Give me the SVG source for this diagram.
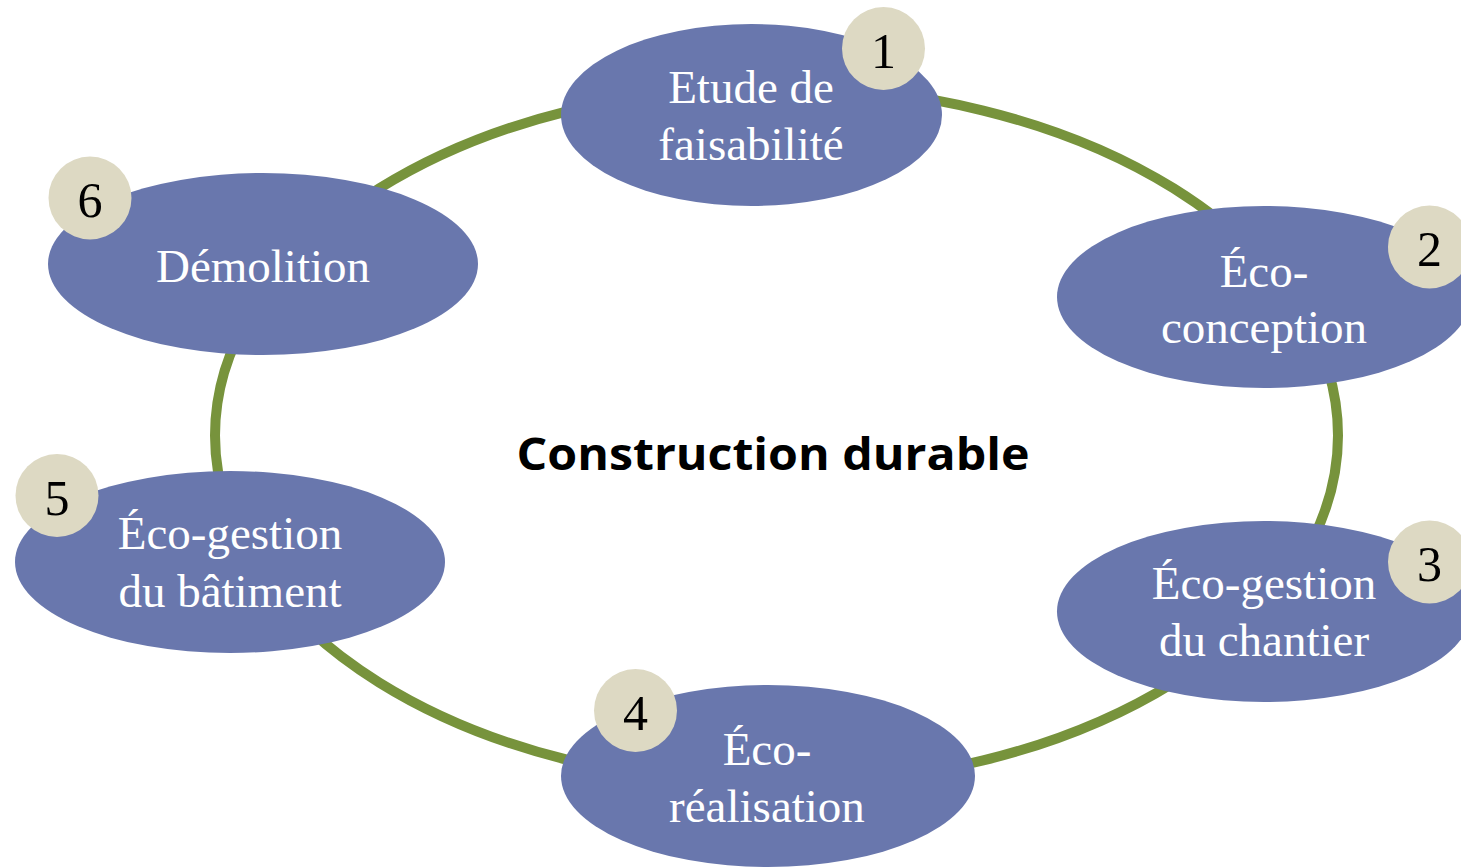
<svg xmlns="http://www.w3.org/2000/svg" width="1461" height="867" viewBox="0 0 1461 867">
<style>
.node{fill:#6977AD}
.badge{fill:#DDD9C3}
.lbl{font-family:"Liberation Serif","Times New Roman",serif;font-size:47px;fill:#FFFFFF;text-anchor:middle}
.num{font-family:"Liberation Serif","Times New Roman",serif;font-size:50px;fill:#000000;text-anchor:middle}
.title{font-family:"Open Sans","Noto Sans",sans-serif;font-size:45px;font-weight:bold;fill:#000000;text-anchor:middle}
</style>
<rect width="1461" height="867" fill="#FFFFFF"/>
<g id="connectors">
<ellipse cx="776.5" cy="435.5" rx="561.5" ry="349.5" fill="none" stroke="#77933C" stroke-width="10"/>
</g>
<text class="title" x="773" y="470" textLength="513" lengthAdjust="spacingAndGlyphs">Construction durable</text>
<g id="node1">
<ellipse class="node" cx="751.5" cy="115" rx="190.5" ry="91"/>
<text class="lbl" x="751" y="103">Etude de</text>
<text class="lbl" x="751" y="160">faisabilité</text>
<circle class="badge" cx="883.5" cy="48.5" r="41.5"/>
<text class="num" x="883.5" y="68">1</text>
</g>
<g id="node2">
<ellipse class="node" cx="1264" cy="297" rx="207" ry="91"/>
<text class="lbl" x="1264" y="287">Éco-</text>
<text class="lbl" x="1264" y="343">conception</text>
<circle class="badge" cx="1429.5" cy="247" r="41.5"/>
<text class="num" x="1429.5" y="266">2</text>
</g>
<g id="node3">
<ellipse class="node" cx="1264" cy="611.5" rx="207" ry="90.5"/>
<text class="lbl" x="1264" y="599">Éco-gestion</text>
<text class="lbl" x="1264" y="656">du chantier</text>
<circle class="badge" cx="1429.5" cy="562" r="41.5"/>
<text class="num" x="1429.5" y="581">3</text>
</g>
<g id="node4">
<ellipse class="node" cx="768" cy="776" rx="207" ry="91"/>
<text class="lbl" x="767" y="765">Éco-</text>
<text class="lbl" x="767" y="822">réalisation</text>
<circle class="badge" cx="635.5" cy="710.5" r="41.5"/>
<text class="num" x="635.5" y="730">4</text>
</g>
<g id="node5">
<ellipse class="node" cx="230" cy="562" rx="215" ry="91"/>
<text class="lbl" x="230" y="549">Éco-gestion</text>
<text class="lbl" x="230" y="607">du bâtiment</text>
<circle class="badge" cx="57" cy="495.5" r="41.5"/>
<text class="num" x="57" y="515">5</text>
</g>
<g id="node6">
<ellipse class="node" cx="263" cy="264" rx="215" ry="91"/>
<text class="lbl" x="263" y="282">Démolition</text>
<circle class="badge" cx="90" cy="198" r="41.5"/>
<text class="num" x="90" y="217">6</text>
</g>
</svg>
